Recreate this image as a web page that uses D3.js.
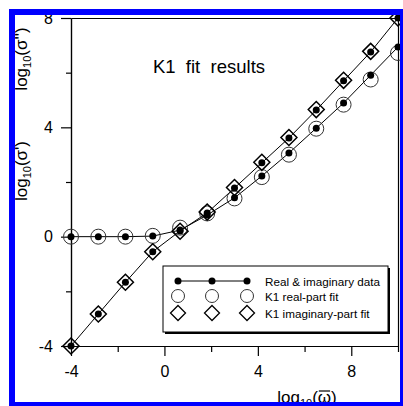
<!DOCTYPE html>
<html>
<head>
<meta charset="utf-8">
<script src="https://cdnjs.cloudflare.com/ajax/libs/d3/7.8.5/d3.min.js"></script>
<style>
  body { margin: 0; background: #fff; }
  text { font-family: "Liberation Sans", Arial, sans-serif; fill: #000; }
</style>
</head>
<body>
<script>
// K1 fit results chart

var W = 403, H = 406;

var xVals    = [-4, -2.83, -1.67, -0.5, 0.67, 1.83, 3, 4.17, 5.33, 6.5, 7.67, 8.83, 10];
var realData = [0, 0, 0, 0.02, 0.24, 0.79, 1.42, 2.22, 3.06, 3.97, 4.89, 5.91, 6.94];
var imagData = [-4, -2.83, -1.67, -0.55, 0.21, 0.87, 1.78, 2.70, 3.61, 4.63, 5.70, 6.76, 8.0];
var realFit  = [0, 0, 0, 0.03, 0.33, 0.85, 1.40, 2.18, 3.00, 3.95, 4.83, 5.75, 6.72];
var imagFit  = [-4, -2.83, -1.67, -0.55, 0.20, 0.90, 1.80, 2.72, 3.63, 4.65, 5.72, 6.78, 8.0];

var majorTicks = [-4, 0, 4, 8];
var minorTicksX = [-2, 2, 6, 10];
var minorTicksY = [-2, 2, 6];

var legendLabels = ["Real & imaginary data", "K1 real-part fit", "K1 imaginary-part fit"];

var pL = 71, pR = 398, pT = 18, pB = 346;

var x = d3.scaleLinear().domain([-4, 10]).range([pL, pR]);
var y = d3.scaleLinear().domain([-4, 8]).range([pB, pT]);
var fmt = function(d) { return String(d); };

var svg = d3.select("body").append("svg")
		.attr("width", W)
		.attr("height", H);

svg.append("rect").attr("width", W).attr("height", H).attr("fill", "#fff");

// frame (top + right)
svg.append("g").attr("transform", "translate(0," + pT + ")")
	.call(d3.axisTop(x).tickValues([]).tickSizeOuter(0));
svg.append("g").attr("transform", "translate(" + pR + ",0)")
	.call(d3.axisRight(y).tickValues([]).tickSizeOuter(0));

// bottom axis
var gx = svg.append("g").attr("transform", "translate(0," + pB + ")")
	.call(d3.axisBottom(x).tickValues(majorTicks).tickFormat(fmt).tickSize(10).tickSizeOuter(0).tickPadding(10));
svg.append("g").attr("transform", "translate(0," + pB + ")")
	.call(d3.axisBottom(x).tickValues(minorTicksX).tickSize(6).tickSizeOuter(0).tickFormat(""));
gx.selectAll("text").attr("font-size", 16).attr("font-family", "Liberation Sans, Arial, sans-serif");

// left axis
var gy = svg.append("g").attr("transform", "translate(" + pL + ",0)")
	.call(d3.axisLeft(y).tickValues(majorTicks).tickFormat(fmt).tickSize(10).tickSizeOuter(0).tickPadding(8));
svg.append("g").attr("transform", "translate(" + pL + ",0)")
	.call(d3.axisLeft(y).tickValues(minorTicksY).tickSize(5).tickSizeOuter(0).tickFormat(""));
gy.selectAll("text").attr("font-size", 16).attr("font-family", "Liberation Sans, Arial, sans-serif");

svg.selectAll(".domain, .tick line").attr("stroke", "#000").attr("stroke-width", 1.2);

// data lines
var line = function(vals) {
	return d3.line().x(function(d, i) { return x(xVals[i]); }).y(function(d) { return y(d); })(vals);
};
svg.append("path").attr("d", line(realData)).attr("fill", "none").attr("stroke", "#000").attr("stroke-width", 1);
svg.append("path").attr("d", line(imagData)).attr("fill", "none").attr("stroke", "#000").attr("stroke-width", 1);

// fits
svg.selectAll(".rfit").data(realFit).enter().append("circle")
	.attr("cx", function(d, i) { return x(xVals[i]); })
	.attr("cy", function(d) { return y(d); })
	.attr("r", 7.5)
	.attr("fill", "none").attr("stroke", "#333").attr("stroke-width", 1);

var diamond = function(cx, cy, s) {
	return "M" + cx + "," + (cy - s) + "L" + (cx + s) + "," + cy + "L" + cx + "," + (cy + s) + "L" + (cx - s) + "," + cy + "Z";
};
svg.selectAll(".ifit").data(imagFit).enter().append("path")
	.attr("d", function(d, i) { return diamond(x(xVals[i]), y(d), 8); })
	.attr("fill", "none").attr("stroke", "#000").attr("stroke-width", 1.5);

// data dots
svg.selectAll(".rdot").data(realData).enter().append("circle")
	.attr("cx", function(d, i) { return x(xVals[i]); })
	.attr("cy", function(d) { return y(d); })
	.attr("r", 3.5).attr("fill", "#000");
svg.selectAll(".idot").data(imagData).enter().append("circle")
	.attr("cx", function(d, i) { return x(xVals[i]); })
	.attr("cy", function(d) { return y(d); })
	.attr("r", 3.5).attr("fill", "#000");

// title
svg.append("text").attr("x", 209).attr("y", 73).attr("text-anchor", "middle")
	.attr("font-size", 18.5).style("white-space", "pre")
	.text("K1  fit  results");

// legend
var lg = svg.append("g");
lg.append("rect").attr("x", 165).attr("y", 268).attr("width", 225).attr("height", 66).attr("fill", "#000");
lg.append("rect").attr("x", 163).attr("y", 266).attr("width", 225).attr("height", 66)
	.attr("fill", "#fff").attr("stroke", "#000").attr("stroke-width", 1);
var lx = [178, 212, 247], ly = [281, 296, 313];
lg.append("line").attr("x1", lx[0]).attr("x2", lx[2]).attr("y1", ly[0]).attr("y2", ly[0]).attr("stroke", "#000");
lx.forEach(function(cx) {
	lg.append("circle").attr("cx", cx).attr("cy", ly[0]).attr("r", 3.5).attr("fill", "#000");
	lg.append("circle").attr("cx", cx).attr("cy", ly[1]).attr("r", 6.5).attr("fill", "none").attr("stroke", "#333");
	lg.append("path").attr("d", diamond(cx, ly[2], 7.5)).attr("fill", "none").attr("stroke", "#000").attr("stroke-width", 1.3);
});
legendLabels.forEach(function(t, i) {
	lg.append("text").attr("x", 265).attr("y", ly[i] + 4.5).attr("font-size", 11.7).text(t);
});

// y labels
function sigmaLabel(cy, primes) {
	var t = svg.append("text").attr("transform", "translate(27," + cy + ") rotate(-90)")
		.attr("text-anchor", "middle").attr("font-size", 17);
	t.append("tspan").text("log");
	t.append("tspan").attr("font-size", 11).attr("dy", 4).text("10");
	t.append("tspan").attr("dy", -4).text("(σ" + primes + ")");
}
sigmaLabel(59, "''");
sigmaLabel(171, "'");

// x label
var xl = svg.append("text").attr("x", 307).attr("y", 403).attr("text-anchor", "middle").attr("font-size", 17);
xl.append("tspan").text("log");
xl.append("tspan").attr("font-size", 11).attr("dy", 4).text("10");
xl.append("tspan").attr("dy", -4).text("(");
xl.append("tspan").text("ω");
xl.append("tspan").text(")");
var ext = xl.node().getExtentOfChar("log10(".length);
svg.append("line").attr("x1", ext.x + 1).attr("x2", ext.x + ext.width - 1)
	.attr("y1", 391).attr("y2", 391).attr("stroke", "#000").attr("stroke-width", 1.2);

// blue border
svg.append("rect").attr("x", 12).attr("y", 12).attr("width", 391).attr("height", 393)
	.attr("fill", "none").attr("stroke", "#0000ff").attr("stroke-width", 6);
</script>
</body>
</html>
